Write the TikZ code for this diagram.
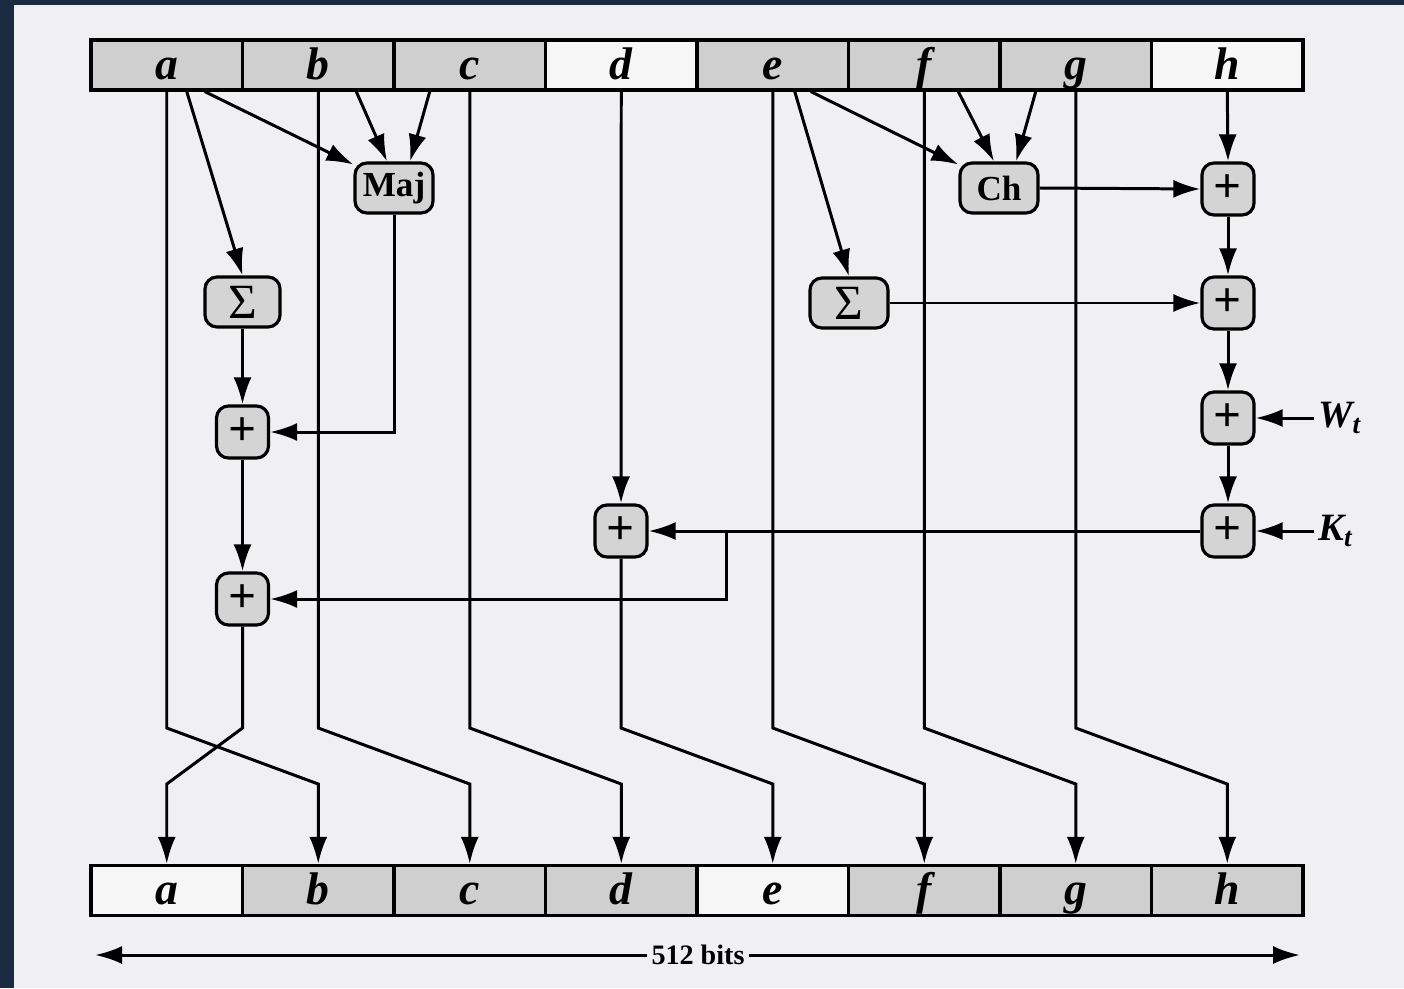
\documentclass[tikz,border=0pt]{standalone}
\usepackage{fontspec}
\setmainfont{Liberation Serif}
\usetikzlibrary{arrows.meta}

\definecolor{frame}{RGB}{27,44,66}
\definecolor{paper}{RGB}{240,240,242}
\definecolor{cell}{RGB}{207,207,207}
\definecolor{blank}{RGB}{246,246,247}
\definecolor{boxgray}{RGB}{212,212,212}

\tikzset{
  reg/.style={draw, line width=0.9pt, minimum width=1.515cm, minimum height=0.5cm, inner sep=0pt,
    text height=0.8em, text depth=0em,
    font=\fontsize{13}{13}\selectfont\bfseries\itshape},
  func/.style={draw, line width=0.9pt, rounded corners=0.12cm, fill=boxgray, minimum width=0.78cm,
    minimum height=0.5cm, inner sep=0pt, font=\fontsize{10}{10}\selectfont\bfseries},
  adder/.style={func, minimum width=0.52cm, minimum height=0.52cm, font=\fontsize{14}{14}\selectfont\bfseries},
  wire/.style={line width=0.85pt, -{Latex[length=2.7mm,width=1.8mm]}},
  tag/.style={font=\fontsize{11}{11}\selectfont\bfseries\itshape, inner sep=1pt, anchor=west},
}

\begin{document}
\begin{tikzpicture}[x=0.01cm, y=-0.01cm]

% background
\fill[frame] (0,0) rectangle (1404,988);
\fill[paper] (14,5) rectangle (1404,988);
\useasboundingbox (0,0) rectangle (1404,988);

% registers in and out
\foreach \l/\up/\dn [count=\i] in {a/cell/blank, b/cell/cell, c/cell/cell, d/blank/cell,
                                   e/cell/blank, f/cell/cell, g/cell/cell, h/blank/cell} {
  \node[reg, fill=\up] (t\l) at ({91+151.5*(\i-0.5)},65) {\l};
  \node[reg, fill=\dn] (b\l) at ({91+151.5*(\i-0.5)},890.5) {\l};
}

% functions
\node[func] (maj) at (394,188) {Maj};
\node[func] (ch) at (999,188) {Ch};
\node[func, minimum width=0.75cm, font=\fontsize{14}{14}\selectfont] (sigA) at (242.5,302) {Σ};
\node[func, font=\fontsize{14}{14}\selectfont] (sigE) at (849,303) {Σ};

% adders
\node[adder] (addA1) at (242.5,432) {+};
\node[adder] (addA2) at (242.5,599) {+};
\node[adder] (addD) at (621,531) {+};
\node[adder] (addH1) at (1228,189) {+};
\node[adder] (addH2) at (1228,303) {+};
\node[adder] (addH3) at (1228,418) {+};
\node[adder] (addH4) at (1228,531) {+};

\node[tag] (wt) at (1314,418) {W\textsubscript{t}};
\node[tag] (kt) at (1314,531) {K\textsubscript{t}};

\coordinate (bend) at (0,728);
\coordinate (bend2) at (0,784);
\coordinate (tap) at (726,531);

% words shifted one place right
\foreach \s/\t in {a/b, b/c, c/d, e/f, f/g, g/h}
  \draw[wire] (t\s.south) -- (t\s |- bend) -- (b\t |- bend2) -- (b\t.north);
\draw[wire] (td.south) -- (addD.north);
\draw[wire] (addD.south) -- (addD |- bend) -- (be |- bend2) -- (be.north);
\draw[wire] (addA2.south) -- (addA2 |- bend) -- (ba |- bend2) -- (ba.north);

% left half
\draw[wire] ([xshift=0.2cm]ta.south) -- (sigA.north);
\draw[wire] ([xshift=0.38cm]ta.south) -- (maj.150);
\draw[wire] ([xshift=0.38cm]tb.south) -- ([xshift=-0.07cm]maj.north);
\draw[wire] ([xshift=-0.4cm]tc.south) -- ([xshift=0.16cm]maj.north);
\draw[wire] (sigA.south) -- (addA1.north);
\draw[wire] (maj.south) |- (addA1.east);
\draw[wire] (addA1.south) -- (addA2.north);

% right half
\draw[wire] ([xshift=0.22cm]te.south) -- (sigE.north);
\draw[wire] ([xshift=0.38cm]te.south) -- (ch.150);
\draw[wire] ([xshift=0.34cm]tf.south) -- ([xshift=-0.05cm]ch.north);
\draw[wire] ([xshift=-0.4cm]tg.south) -- ([xshift=0.17cm]ch.north);
\draw[wire] (ch.east) -- (addH1.west);
\draw[wire] (sigE.east) -- (addH2.west);
\draw[wire] (th.south) -- (addH1.north);
\draw[wire] (addH1.south) -- (addH2.north);
\draw[wire] (addH2.south) -- (addH3.north);
\draw[wire] (addH3.south) -- (addH4.north);
\draw[wire] (wt.west) -- (addH3.east);
\draw[wire] (kt.west) -- (addH4.east);
\draw[wire] (addH4.west) -- (addD.east);
\draw[wire] (tap) |- (addA2.east);

% width
\node[font=\fontsize{8}{8}\selectfont\bfseries, inner sep=1pt] (bits) at (698,955) {512 bits};
\coordinate (bitsL) at (95,955);
\coordinate (bitsR) at (1300,955);
\draw[wire] (bits.west) -- (bitsL);
\draw[wire] (bits.east) -- (bitsR);

\end{tikzpicture}
\end{document}
